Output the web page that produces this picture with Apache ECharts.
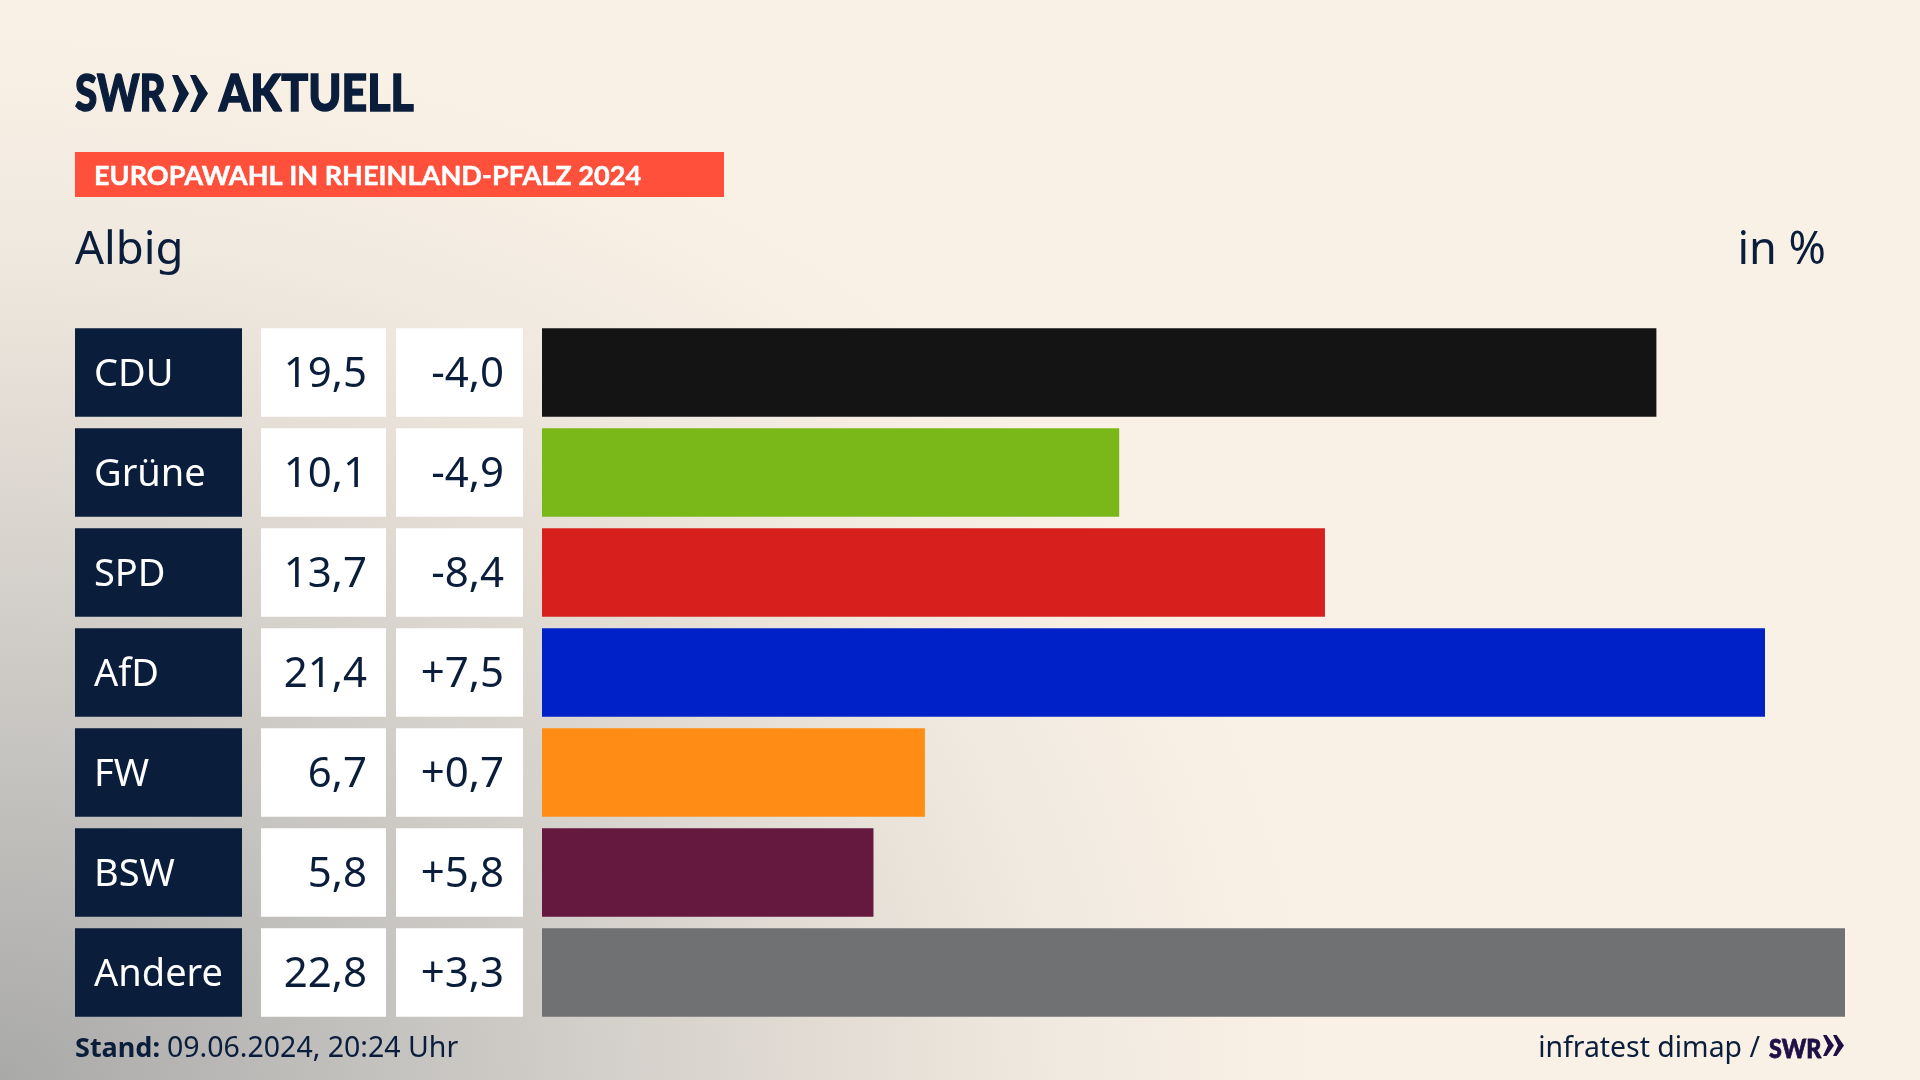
<!DOCTYPE html>
<html><head><meta charset="utf-8">
<script src="https://cdn.jsdelivr.net/npm/echarts@6/dist/echarts.min.js"></script>
<style>
html,body{margin:0;padding:0;width:1920px;height:1080px;overflow:hidden;background-color:#faf1e6;
background-image:radial-gradient(ellipse 1320px 1050px at 0px 1080px,#a9a9a8 0%,#c5c3c0 30%,#dcd7d0 56%,#f0e9df 80%,#faf1e6 100%);}
#c{width:1920px;height:1080px}
</style></head><body><div id="c"></div>
<script>
const parties=['CDU','Grüne','SPD','AfD','FW','BSW','Andere'];
const shares=[19.5,10.1,13.7,21.4,6.7,5.8,22.8];
const changes=[-4.0,-4.9,-8.4,7.5,0.7,5.8,3.3];
const colors=['#141414','#7ab819','#d7201e','#0020c8','#ff8c14','#65193e','#707173'];
const FONT='Noto Sans';
const LOGO='Lato';
const NAVY='#0a1e3c';
const fmt=v=>v.toFixed(1).replace('.',',');
const fmtChange=v=>(v>0?'+':'')+fmt(v);

const GRID_TOP=322.5, GRID_H=700, BAR_H=88.5;
const cols=[{l:75,r:242},{l:261,r:386},{l:396,r:523},{l:542,r:1845}];
const grid=cols.map(c=>({left:c.l,width:c.r-c.l,top:GRID_TOP,height:GRID_H,containLabel:false}));
const yAxis=cols.map((c,i)=>({gridIndex:i,type:'category',inverse:true,data:parties,show:false}));
const xAxis=cols.map((c,i)=>({gridIndex:i,type:'value',min:0,max:i===3?22.8:1,show:false}));
const cell=(i,color,formatter,pos,dist,text,size)=>({
  type:'bar',xAxisIndex:i,yAxisIndex:i,barWidth:BAR_H,silent:true,animation:false,
  data:parties.map(()=>1),itemStyle:{color},
  label:{show:true,position:pos,distance:dist,offset:[0,3],formatter:p=>formatter(p.dataIndex),
    color:text,fontFamily:FONT,fontSize:size,fontWeight:400}
});
const series=[
  cell(0,NAVY,i=>parties[i],'insideLeft',19,'#fff',38),
  cell(1,'#fff',i=>fmt(shares[i]),'insideRight',19,NAVY,42),
  cell(2,'#fff',i=>fmtChange(changes[i]),'insideRight',19,NAVY,42),
  {type:'bar',xAxisIndex:3,yAxisIndex:3,barWidth:BAR_H,silent:true,animation:false,
   data:shares.map((v,i)=>({value:v,itemStyle:{color:colors[i]}}))}
];
// b = text baseline in px
const txt=(x,b,text,size,weight,fill,o={})=>({type:'text',x,y:b+3-0.36*size,silent:true,scaleX:o.sx||1,
  style:{text,fontFamily:o.font||FONT,fontSize:size,fontWeight:weight,fill,verticalAlign:'middle',align:o.align||'left',
    stroke:o.stroke?fill:null,lineWidth:o.stroke||0}});
const chev=(x,y,w,h,t,fill)=>({type:'polygon',silent:true,shape:{points:[[x,y],[x+t*0.6,y],[x+w,y+h/2],[x+t*0.6,y+h],[x,y+h],[x+w-t,y+h/2]]},style:{fill}});
const graphic=[
  txt(75,110,'SWR',51,900,NAVY,{font:LOGO,sx:0.79,stroke:1.5}),
  chev(172,75,17,37,10,NAVY),chev(190,75,18,37,10,NAVY),
  txt(219,110,'AKTUELL',51,900,NAVY,{font:LOGO,sx:0.875,stroke:1.5}),
  {type:'rect',silent:true,shape:{x:75,y:152,width:649,height:45},style:{fill:'#ff503c'}},
  txt(94,183,'EUROPAWAHL IN RHEINLAND-PFALZ 2024',27.1,700,'#fff',{font:LOGO,stroke:0.5}),
  txt(75,264,'Albig',45.5,400,NAVY),
  txt(1826,264,'in %',45,400,NAVY,{align:'right'}),
  txt(75,1056,'Stand:',27,700,NAVY),
  txt(167,1056,'09.06.2024, 20:24 Uhr',28.5,400,NAVY),
  txt(1760,1056,'infratest dimap /',28.4,400,NAVY,{align:'right'}),
  txt(1769,1056,'SWR',27,900,'#1e0f45',{font:LOGO,sx:0.86,stroke:0.8}),
  chev(1823,1035,11,21,6,'#1e0f45'),chev(1833,1035,11,21,6,'#1e0f45')
];
const chart=echarts.init(document.getElementById('c'),null,{renderer:'canvas'});
chart.setOption({animation:false,backgroundColor:'transparent',grid,xAxis,yAxis,series,graphic});
</script></body></html>
